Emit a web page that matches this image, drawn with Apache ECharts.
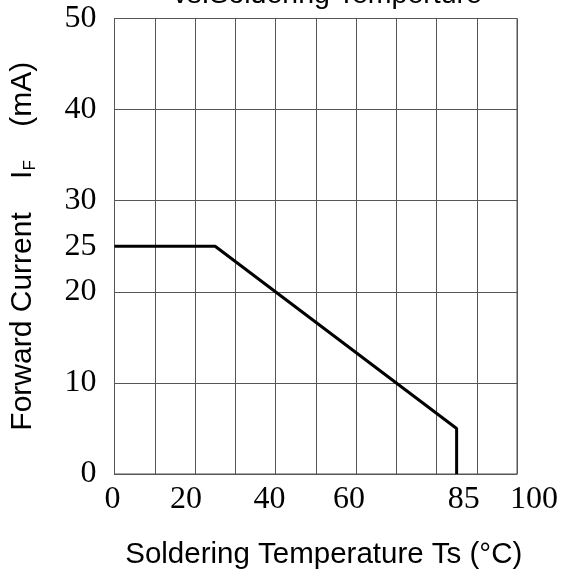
<!DOCTYPE html>
<html>
<head>
<meta charset="utf-8">
<script src="https://cdn.jsdelivr.net/npm/echarts@6/dist/echarts.min.js"></script>
<style>
html,body{margin:0;padding:0;background:#fff;}
#chart{width:561px;height:575px;}
</style>
</head>
<body>
<div id="chart"></div>
<script>
// ---- data ----
const tempX = [0, 25, 85, 85];
const currentY = [25, 25, 5, 0];
const xTickLabels = [0, 20, 40, 60, 85, 100];
const yTickLabels = [0, 10, 20, 25, 30, 40, 50];
const titleText = 'vs.Soldering Temperture';
const xTitle = 'Soldering Temperature Ts (°C)';

// ---- style: horizontal nudge of x tick labels (px) ----
const xLabelShift = {0: -2, 20: -9, 40: -6, 60: -7, 85: 7, 100: 17};

const rich = {};
Object.keys(xLabelShift).forEach(function (k) {
  const s = xLabelShift[k];
  rich['x' + k] = {
    fontFamily: 'Liberation Serif', fontSize: 32, color: '#000',
    padding: s >= 0 ? [0, 0, 0, 2 * s] : [0, -2 * s, 0, 0]
  };
});

const chart = echarts.init(document.getElementById('chart'), null, {renderer: 'canvas'});
const serif = 'Liberation Serif';
const sans = 'Liberation Sans';
const gridColor = '#555';

chart.setOption({
  animation: false,
  backgroundColor: '#fff',
  title: {
    text: titleText,
    left: 173,
    top: -19,
    padding: 0,
    textStyle: {fontFamily: sans, fontSize: 28.5, fontWeight: 'normal', color: '#000'}
  },
  grid: {left: 108, right: 43, top: 18.5, bottom: 100.5, show: true, borderColor: gridColor, borderWidth: 1},
  xAxis: {
    type: 'value', min: 0, max: 100, interval: 10,
    name: xTitle,
    nameLocation: 'middle',
    nameGap: 66,
    nameTextStyle: {fontFamily: sans, fontSize: 29.5, color: '#000', padding: [0, 0, 0, 16]},
    axisLine: {show: true, lineStyle: {color: gridColor, width: 1}},
    axisTick: {show: false},
    splitLine: {show: true, lineStyle: {color: gridColor, width: 1}},
    axisLabel: {
      customValues: xTickLabels,
      margin: 10,
      fontFamily: serif, fontSize: 32, color: '#000',
      formatter: function (v) { return '{x' + v + '|' + v + '}'; },
      rich: rich
    }
  },
  yAxis: {
    type: 'value', min: 0, max: 50, interval: 10,
    name: 'Forward Current    I{sub|F}    (mA)',
    nameLocation: 'middle',
    nameGap: 76,
    nameRotate: 90,
    nameTextStyle: {
      fontFamily: sans, fontSize: 30, color: '#000', padding: [0, 0, 0, 0],
      rich: {sub: {fontFamily: sans, fontSize: 17, color: '#000', verticalAlign: 'bottom', padding: [14, 0, 0, 0]}}
    },
    axisLine: {show: true, lineStyle: {color: gridColor, width: 1}},
    axisTick: {show: false},
    splitLine: {show: true, lineStyle: {color: gridColor, width: 1}},
    axisLabel: {
      customValues: yTickLabels,
      margin: 18,
      fontFamily: serif, fontSize: 32, color: '#000'
    }
  },
  series: [{
    type: 'line',
    data: tempX.map(function (x, i) { return [x, currentY[i]]; }),
    showSymbol: false,
    symbol: 'none',
    lineStyle: {color: '#000', width: 3},
    clip: false
  }]
});
</script>
</body>
</html>
